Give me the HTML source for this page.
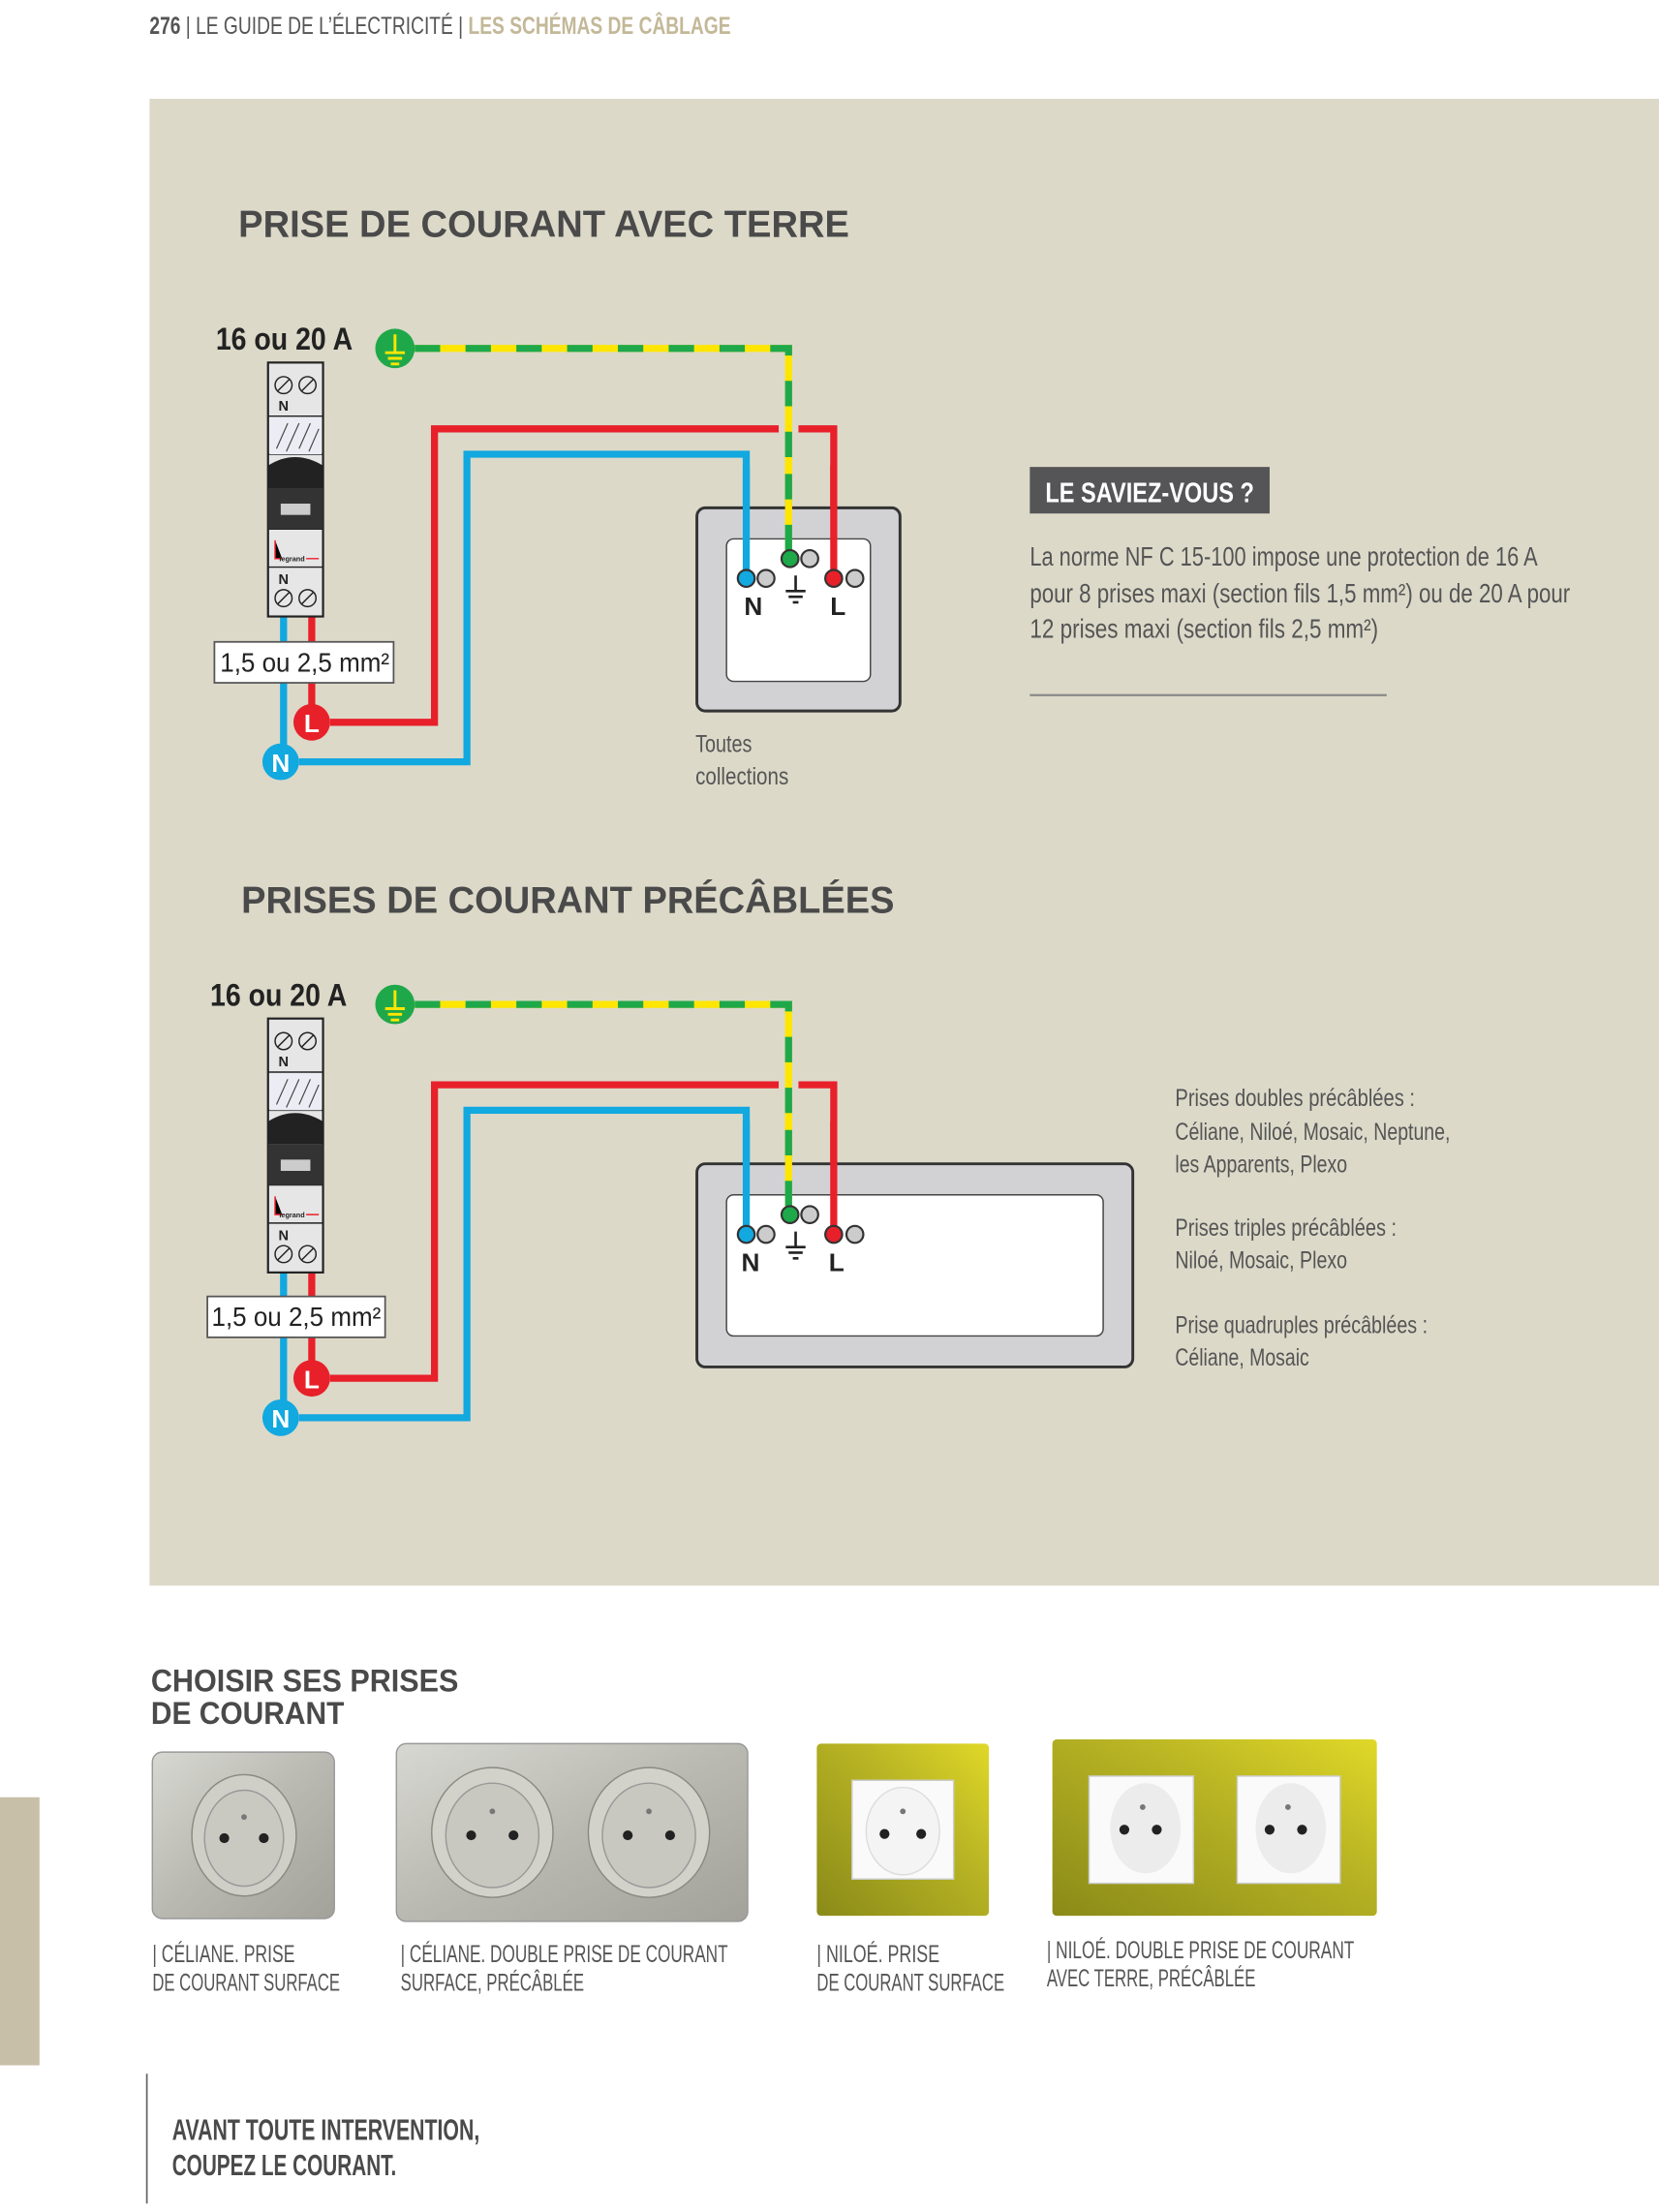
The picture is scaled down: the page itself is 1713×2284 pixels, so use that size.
<!DOCTYPE html>
<html><head><meta charset="utf-8"><style>
html,body{margin:0;padding:0;background:#fff}
svg{display:block}
text{font-family:"Liberation Sans Narrow","Liberation Sans",sans-serif}
</style></head><body>
<svg width="1713" height="2284" viewBox="0 0 1176 1568" xmlns="http://www.w3.org/2000/svg">
<rect width="1176" height="1568" fill="#fff"/>
<text x="106" y="24" font-size="17" fill="#555" textLength="412" lengthAdjust="spacingAndGlyphs"><tspan font-weight="bold">276</tspan> | LE GUIDE DE L’ÉLECTRICITÉ | <tspan font-weight="bold" fill="#c3b898">LES SCHÉMAS DE CÂBLAGE</tspan></text>
<rect x="106" y="70" width="1070" height="1054" fill="#dcd9c9"/>

<text x="169" y="168" font-size="27" font-weight="bold" fill="#4a4a4a" textLength="433" lengthAdjust="spacingAndGlyphs">PRISE DE COURANT AVEC TERRE</text>
<text x="171" y="647" font-size="27" font-weight="bold" fill="#4a4a4a" textLength="463" lengthAdjust="spacingAndGlyphs">PRISES DE COURANT PRÉCÂBLÉES</text>

<text x="153" y="248" font-size="22" font-weight="bold" fill="#222" textLength="97" lengthAdjust="spacingAndGlyphs">16 ou 20 A</text>
<g transform="translate(-4,465)"><text x="153" y="248" font-size="22" font-weight="bold" fill="#222" textLength="97" lengthAdjust="spacingAndGlyphs">16 ou 20 A</text></g>

<g>
<path d="M294 247 H559 V395" fill="none" stroke="#ffe600" stroke-width="5"/>
<path d="M294 247 H559 V395" fill="none" stroke="#1fa84a" stroke-width="5" stroke-dasharray="18 18"/>
<circle cx="280" cy="247" r="14" fill="#1fa84a"/>
<path d="M280 237 V250 M273 250 H287 M275 254 H285 M277 258 H283" stroke="#ffe600" stroke-width="2"/>
<path d="M221 437 V512 M234 512 H308 V304 H552 M566 304 H591 V410" fill="none" stroke="#e8202a" stroke-width="5"/>
<path d="M201 437 V540 M212 540 H331 V322 H529 V410" fill="none" stroke="#12a8e0" stroke-width="5"/>
<circle cx="221" cy="512" r="13" fill="#e8202a"/><text x="221" y="519" font-size="18" font-weight="bold" fill="#fff" text-anchor="middle">L</text>
<circle cx="199" cy="540" r="13" fill="#12a8e0"/><text x="199" y="547" font-size="18" font-weight="bold" fill="#fff" text-anchor="middle">N</text>
<rect x="152" y="455" width="127" height="29" fill="#fff" stroke="#555" stroke-width="1.2"/>
<text x="156" y="476" font-size="19" fill="#222" textLength="120" lengthAdjust="spacingAndGlyphs">1,5 ou 2,5 mm²</text>
<rect x="190" y="257" width="39" height="180" fill="#e6e6e6" stroke="#222" stroke-width="1.5"/>
<path d="M190 295 H229 M190 322 H229 M190 375 H229 M190 402 H229" stroke="#222" stroke-width="1"/>
<rect x="191" y="296" width="37" height="26" fill="#ececf4"/>
<path d="M196 318 L204 300 M203 320 L212 300 M212 318 L220 300 M219 320 L226 304" stroke="#444" stroke-width="0.8"/>
<path d="M190 330 Q209 318 229 330 V346 H190 Z" fill="#222"/>
<rect x="190" y="346" width="39" height="29" fill="#333"/>
<rect x="199" y="357" width="21" height="8" fill="#ccc"/>
<path d="M195 383 V396 H200 M217 396 H226" stroke="#e8202a" stroke-width="1"/>
<text x="198" y="398" font-size="5" font-weight="bold" fill="#222">legrand</text>
<circle cx="201" cy="273" r="6" fill="#e6e6e6" stroke="#222"/><circle cx="218" cy="273" r="6" fill="#e6e6e6" stroke="#222"/>
<path d="M197 277 L205 269 M214 277 L222 269" stroke="#222"/>
<text x="201" y="291" font-size="10" font-weight="bold" fill="#222" text-anchor="middle">N</text>
<text x="201" y="414" font-size="10" font-weight="bold" fill="#222" text-anchor="middle">N</text>
<circle cx="201" cy="424" r="6" fill="#e6e6e6" stroke="#222"/><circle cx="218" cy="424" r="6" fill="#e6e6e6" stroke="#222"/>
<path d="M197 428 L205 420 M214 428 L222 420" stroke="#222"/>
<rect x="494" y="360" width="144" height="144" rx="6" fill="#d2d2d4" stroke="#333" stroke-width="2"/>
<rect x="515" y="382" width="102" height="101" rx="5" fill="#fff" stroke="#444" stroke-width="1"/>
</g>
<path d="M559 330 V395" stroke="#ffe600" stroke-width="5"/>
<path d="M559 330 V395" stroke="#1fa84a" stroke-width="5" stroke-dasharray="18 18" stroke-dashoffset="-6"/>
<path d="M591 330 V410" stroke="#e8202a" stroke-width="5"/><path d="M529 330 V410" stroke="#12a8e0" stroke-width="5"/>
<g stroke="#333" stroke-width="1.5">
<circle cx="529" cy="410" r="6" fill="#12a8e0"/><circle cx="543" cy="410" r="6" fill="#ccc"/>
<circle cx="560" cy="396" r="6" fill="#1fa84a"/><circle cx="574" cy="396" r="6" fill="#ccc"/>
<circle cx="591" cy="410" r="6" fill="#e8202a"/><circle cx="606" cy="410" r="6" fill="#ccc"/>
</g>
<path d="M564 408 V419 M557 419 H571 M559 423 H569 M562 427 H566" stroke="#222" stroke-width="1.8"/>
<text x="534" y="436" font-size="18" font-weight="bold" fill="#222" text-anchor="middle">N</text>
<text x="594" y="436" font-size="18" font-weight="bold" fill="#222" text-anchor="middle">L</text>
<text x="493" y="533" font-size="17" fill="#555" textLength="40" lengthAdjust="spacingAndGlyphs">Toutes</text>
<text x="493" y="556" font-size="17" fill="#555" textLength="66" lengthAdjust="spacingAndGlyphs">collections</text>

<g transform="translate(0,465)">
<path d="M294 247 H559 V395" fill="none" stroke="#ffe600" stroke-width="5"/>
<path d="M294 247 H559 V395" fill="none" stroke="#1fa84a" stroke-width="5" stroke-dasharray="18 18"/>
<circle cx="280" cy="247" r="14" fill="#1fa84a"/>
<path d="M280 237 V250 M273 250 H287 M275 254 H285 M277 258 H283" stroke="#ffe600" stroke-width="2"/>
<path d="M221 437 V512 M234 512 H308 V304 H552 M566 304 H591 V410" fill="none" stroke="#e8202a" stroke-width="5"/>
<path d="M201 437 V540 M212 540 H331 V322 H529 V410" fill="none" stroke="#12a8e0" stroke-width="5"/>
<circle cx="221" cy="512" r="13" fill="#e8202a"/><text x="221" y="519" font-size="18" font-weight="bold" fill="#fff" text-anchor="middle">L</text>
<circle cx="199" cy="540" r="13" fill="#12a8e0"/><text x="199" y="547" font-size="18" font-weight="bold" fill="#fff" text-anchor="middle">N</text>
<rect x="147" y="454" width="126" height="29" fill="#fff" stroke="#555" stroke-width="1.2"/>
<text x="150" y="475" font-size="19" fill="#222" textLength="120" lengthAdjust="spacingAndGlyphs">1,5 ou 2,5 mm²</text>
<rect x="190" y="257" width="39" height="180" fill="#e6e6e6" stroke="#222" stroke-width="1.5"/>
<path d="M190 295 H229 M190 322 H229 M190 375 H229 M190 402 H229" stroke="#222" stroke-width="1"/>
<rect x="191" y="296" width="37" height="26" fill="#ececf4"/>
<path d="M196 318 L204 300 M203 320 L212 300 M212 318 L220 300 M219 320 L226 304" stroke="#444" stroke-width="0.8"/>
<path d="M190 330 Q209 318 229 330 V346 H190 Z" fill="#222"/>
<rect x="190" y="346" width="39" height="29" fill="#333"/>
<rect x="199" y="357" width="21" height="8" fill="#ccc"/>
<path d="M195 383 V396 H200 M217 396 H226" stroke="#e8202a" stroke-width="1"/>
<text x="198" y="398" font-size="5" font-weight="bold" fill="#222">legrand</text>
<circle cx="201" cy="273" r="6" fill="#e6e6e6" stroke="#222"/><circle cx="218" cy="273" r="6" fill="#e6e6e6" stroke="#222"/>
<path d="M197 277 L205 269 M214 277 L222 269" stroke="#222"/>
<text x="201" y="291" font-size="10" font-weight="bold" fill="#222" text-anchor="middle">N</text>
<text x="201" y="414" font-size="10" font-weight="bold" fill="#222" text-anchor="middle">N</text>
<circle cx="201" cy="424" r="6" fill="#e6e6e6" stroke="#222"/><circle cx="218" cy="424" r="6" fill="#e6e6e6" stroke="#222"/>
<path d="M197 428 L205 420 M214 428 L222 420" stroke="#222"/>
<rect x="494" y="360" width="309" height="144" rx="6" fill="#d2d2d4" stroke="#333" stroke-width="2"/>
<rect x="515" y="382" width="267" height="100" rx="5" fill="#fff" stroke="#444" stroke-width="1"/>
<path d="M559 330 V395" stroke="#ffe600" stroke-width="5"/>
<path d="M559 330 V395" stroke="#1fa84a" stroke-width="5" stroke-dasharray="18 18" stroke-dashoffset="-6"/>
<path d="M591 330 V410" stroke="#e8202a" stroke-width="5"/><path d="M529 330 V410" stroke="#12a8e0" stroke-width="5"/>
<g stroke="#333" stroke-width="1.5">
<circle cx="529" cy="410" r="6" fill="#12a8e0"/><circle cx="543" cy="410" r="6" fill="#ccc"/>
<circle cx="560" cy="396" r="6" fill="#1fa84a"/><circle cx="574" cy="396" r="6" fill="#ccc"/>
<circle cx="591" cy="410" r="6" fill="#e8202a"/><circle cx="606" cy="410" r="6" fill="#ccc"/>
</g>
<path d="M564 408 V419 M557 419 H571 M559 423 H569 M562 427 H566" stroke="#222" stroke-width="1.8"/>
<text x="532" y="436" font-size="18" font-weight="bold" fill="#222" text-anchor="middle">N</text>
<text x="593" y="436" font-size="18" font-weight="bold" fill="#222" text-anchor="middle">L</text>
</g>

<rect x="730" y="331" width="170" height="33" fill="#555558"/>
<text x="741" y="356" font-size="20" font-weight="bold" fill="#fff" textLength="148" lengthAdjust="spacingAndGlyphs">LE SAVIEZ-VOUS ?</text>
<g font-size="19" fill="#555">
<text x="730" y="401" textLength="360" lengthAdjust="spacingAndGlyphs">La norme NF C 15-100 impose une protection de 16 A</text>
<text x="730" y="427" textLength="383" lengthAdjust="spacingAndGlyphs">pour 8 prises maxi (section fils 1,5 mm²) ou de 20 A pour</text>
<text x="730" y="452" textLength="247" lengthAdjust="spacingAndGlyphs">12 prises maxi (section fils 2,5 mm²)</text>
</g>
<rect x="730" y="492" width="253" height="1.5" fill="#888"/>

<g font-size="17" fill="#555">
<text x="833" y="784" textLength="170" lengthAdjust="spacingAndGlyphs">Prises doubles précâblées  :</text>
<text x="833" y="808" textLength="195" lengthAdjust="spacingAndGlyphs">Céliane, Niloé, Mosaic, Neptune,</text>
<text x="833" y="831" textLength="122" lengthAdjust="spacingAndGlyphs">les Apparents, Plexo</text>
<text x="833" y="876" textLength="157" lengthAdjust="spacingAndGlyphs">Prises triples précâblées :</text>
<text x="833" y="899" textLength="122" lengthAdjust="spacingAndGlyphs">Niloé, Mosaic, Plexo</text>
<text x="833" y="945" textLength="179" lengthAdjust="spacingAndGlyphs">Prise quadruples précâblées :</text>
<text x="833" y="968" textLength="95" lengthAdjust="spacingAndGlyphs">Céliane, Mosaic</text>
</g>

<text x="107" y="1199" font-size="22" font-weight="bold" fill="#4a4a4a" textLength="218" lengthAdjust="spacingAndGlyphs">CHOISIR SES PRISES</text>
<text x="107" y="1222" font-size="22" font-weight="bold" fill="#4a4a4a" textLength="137" lengthAdjust="spacingAndGlyphs">DE COURANT</text>

<defs>
<linearGradient id="sil" x1="0" y1="0" x2="1" y2="1"><stop offset="0" stop-color="#d8d8d2"/><stop offset="0.5" stop-color="#b9b9b2"/><stop offset="1" stop-color="#a2a29a"/></linearGradient>
<linearGradient id="yel" x1="0" y1="1" x2="1" y2="0"><stop offset="0" stop-color="#8a8a18"/><stop offset="0.6" stop-color="#b8b424"/><stop offset="1" stop-color="#e0d828"/></linearGradient>
</defs>
<rect x="108" y="1242" width="129" height="118" rx="7" fill="url(#sil)" stroke="#999"/>
<ellipse cx="173" cy="1301" rx="37" ry="43" fill="#cfcfc8" stroke="#8a8a84"/><ellipse cx="173" cy="1303" rx="28" ry="34" fill="#c9c9c2" stroke="#999"/>
<circle cx="159" cy="1303" r="3.5" fill="#222"/><circle cx="187" cy="1303" r="3.5" fill="#222"/><circle cx="173" cy="1288" r="2" fill="#777"/>
<rect x="281" y="1236" width="249" height="126" rx="7" fill="url(#sil)" stroke="#999"/>
<ellipse cx="349" cy="1299" rx="43" ry="46" fill="#d2d2ca" stroke="#8a8a84"/><ellipse cx="349" cy="1301" rx="33" ry="37" fill="#c8c8c0" stroke="#999"/>
<circle cx="334" cy="1301" r="3.5" fill="#222"/><circle cx="364" cy="1301" r="3.5" fill="#222"/><circle cx="349" cy="1284" r="2" fill="#777"/>
<ellipse cx="460" cy="1299" rx="43" ry="46" fill="#d2d2ca" stroke="#8a8a84"/><ellipse cx="460" cy="1301" rx="33" ry="37" fill="#c8c8c0" stroke="#999"/>
<circle cx="445" cy="1301" r="3.5" fill="#222"/><circle cx="475" cy="1301" r="3.5" fill="#222"/><circle cx="460" cy="1284" r="2" fill="#777"/>
<rect x="579" y="1236" width="122" height="122" rx="3" fill="url(#yel)"/>
<rect x="604" y="1262" width="72" height="70" fill="#fafafa" stroke="#ccc"/>
<ellipse cx="640" cy="1298" rx="26" ry="31" fill="#f4f4f4" stroke="#ddd"/>
<circle cx="627" cy="1300" r="3.5" fill="#222"/><circle cx="653" cy="1300" r="3.5" fill="#222"/><circle cx="640" cy="1284" r="2" fill="#777"/>
<rect x="746" y="1233" width="230" height="125" rx="3" fill="url(#yel)"/>
<rect x="772" y="1259" width="74" height="76" fill="#fafafa" stroke="#ccc"/>
<rect x="877" y="1259" width="73" height="76" fill="#fafafa" stroke="#ccc"/>
<ellipse cx="812" cy="1296" rx="25" ry="32" fill="#ececec"/><ellipse cx="915" cy="1296" rx="25" ry="32" fill="#ececec"/>
<circle cx="797" cy="1297" r="3.5" fill="#222"/><circle cx="820" cy="1297" r="3.5" fill="#222"/><circle cx="810" cy="1281" r="2" fill="#777"/>
<circle cx="900" cy="1297" r="3.5" fill="#222"/><circle cx="923" cy="1297" r="3.5" fill="#222"/><circle cx="913" cy="1281" r="2" fill="#777"/>

<g font-size="17" fill="#555">
<text x="108" y="1391" textLength="101" lengthAdjust="spacingAndGlyphs">| CÉLIANE. PRISE</text>
<text x="108" y="1411" textLength="133" lengthAdjust="spacingAndGlyphs">DE COURANT SURFACE</text>
<text x="284" y="1391" textLength="232" lengthAdjust="spacingAndGlyphs">| CÉLIANE. DOUBLE PRISE DE COURANT</text>
<text x="284" y="1411" textLength="130" lengthAdjust="spacingAndGlyphs">SURFACE, PRÉCÂBLÉE</text>
<text x="579" y="1391" textLength="87" lengthAdjust="spacingAndGlyphs">| NILOÉ. PRISE</text>
<text x="579" y="1411" textLength="133" lengthAdjust="spacingAndGlyphs">DE COURANT SURFACE</text>
<text x="742" y="1388" textLength="218" lengthAdjust="spacingAndGlyphs">| NILOÉ. DOUBLE PRISE DE COURANT</text>
<text x="742" y="1408" textLength="148" lengthAdjust="spacingAndGlyphs">AVEC TERRE, PRÉCÂBLÉE</text>
</g>
<rect x="0" y="1274" width="28" height="190" fill="#c8bfa8"/>
<rect x="103.5" y="1470" width="1.2" height="92" fill="#666"/>
<text x="122" y="1517" font-size="21" font-weight="bold" fill="#4a4a4a" textLength="218" lengthAdjust="spacingAndGlyphs">AVANT TOUTE INTERVENTION,</text>
<text x="122" y="1542" font-size="21" font-weight="bold" fill="#4a4a4a" textLength="159" lengthAdjust="spacingAndGlyphs">COUPEZ LE COURANT.</text>
</svg>
</body></html>
